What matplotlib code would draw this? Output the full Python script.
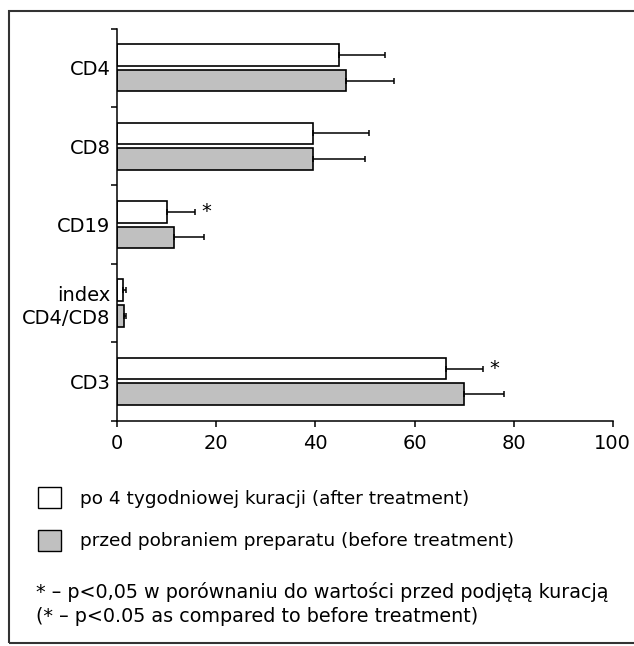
import numpy as np
import matplotlib.pyplot as plt
from matplotlib.patches import Rectangle

plt.rcParams['font.family'] = ['DejaVu Sans']
FS = 14
plt.rcParams['font.size'] = FS

# data (top group first)
categories = ['CD4', 'CD8', 'CD19', 'index\nCD4/CD8', 'CD3']
after_vals = [44.8, 39.6, 10.1, 1.2, 66.3]
after_err = [9.2, 11.3, 5.6, 0.6, 7.6]
before_vals = [46.1, 39.6, 11.5, 1.3, 70.0]
before_err = [9.8, 10.4, 6.0, 0.5, 8.1]
significant = [False, False, True, False, True]
xticks = [0, 20, 40, 60, 80, 100]

legend_labels = ['po 4 tygodniowej kuracji (after treatment)',
                 'przed pobraniem preparatu (before treatment)']
legend_colors = ['white', '#c0c0c0']
footnote = ['* \u2013 p<0,05 w porównaniu do wartości przed podjętą kuracją',
            '(* \u2013 p<0.05 as compared to before treatment)']

W, H = 634, 646
fig = plt.figure(figsize=(W / 100, H / 100), dpi=100)

# axes placed in pixel terms
x0, x1, ytop, ybot = 117.3, 612.7, 28.5, 420.7
ax = fig.add_axes([x0 / W, 1 - ybot / H, (x1 - x0) / W, (ybot - ytop) / H])

n = len(categories)
centers = np.arange(n) + 0.5
bar_h = 0.275
off = 0.163
zeros = np.zeros(n)
ekw = dict(ecolor='black', elinewidth=1.1, capsize=2, capthick=1.1)

ax.barh(centers - off, after_vals, height=bar_h, color=legend_colors[0],
        edgecolor='black', linewidth=1.2, xerr=[zeros, after_err], error_kw=ekw)
ax.barh(centers + off, before_vals, height=bar_h, color=legend_colors[1],
        edgecolor='black', linewidth=1.2, xerr=[zeros, before_err], error_kw=ekw)

# asterisks next to significant "after" bars
for i in range(n):
    if significant[i]:
        ax.text(after_vals[i] + after_err[i] + 2.3, centers[i] - off, '*',
                ha='center', va='center', fontsize=FS)

ax.set_xlim(0, 100)
ax.set_ylim(n, 0)
ax.set_xticks(xticks)
ax.set_yticks(np.arange(n + 1))
ax.set_yticklabels([])
ax.set_yticks(centers, minor=True)
ax.set_yticklabels(categories, minor=True, linespacing=1.25)
ax.tick_params(axis='y', which='major', direction='out', length=4, width=1.1)
ax.tick_params(axis='y', which='minor', length=0, pad=5, labelsize=FS)
ax.tick_params(axis='x', direction='out', length=4.5, width=1.1, pad=5, labelsize=FS)
for s in ['top', 'right']:
    ax.spines[s].set_visible(False)
for s in ['left', 'bottom']:
    ax.spines[s].set_linewidth(1.1)

# outer frame (right edge runs off the image)
fig.add_artist(Rectangle((9 / W, 1 - 643 / H), 1.0, (643 - 10.5) / H,
                         transform=fig.transFigure, fill=False,
                         edgecolor='#333333', linewidth=1.5))

# legend drawn by hand
box_y = [497, 540]
for lab, col, yc in zip(legend_labels, legend_colors, box_y):
    fig.add_artist(Rectangle((38.3 / W, 1 - (yc + 10.5) / H), 22.7 / W, 21 / H,
                             transform=fig.transFigure, facecolor=col,
                             edgecolor='black', linewidth=1.0))
    fig.text(80 / W, 1 - (yc + 6.5) / H, lab, ha='left', va='baseline', fontsize=13.3)

foot_y = [598.3, 622.3]
for line, yb in zip(footnote, foot_y):
    fig.text(36 / W, 1 - yb / H, line, ha='left', va='baseline', fontsize=13.75)

fig.savefig('out.png', dpi=100)
